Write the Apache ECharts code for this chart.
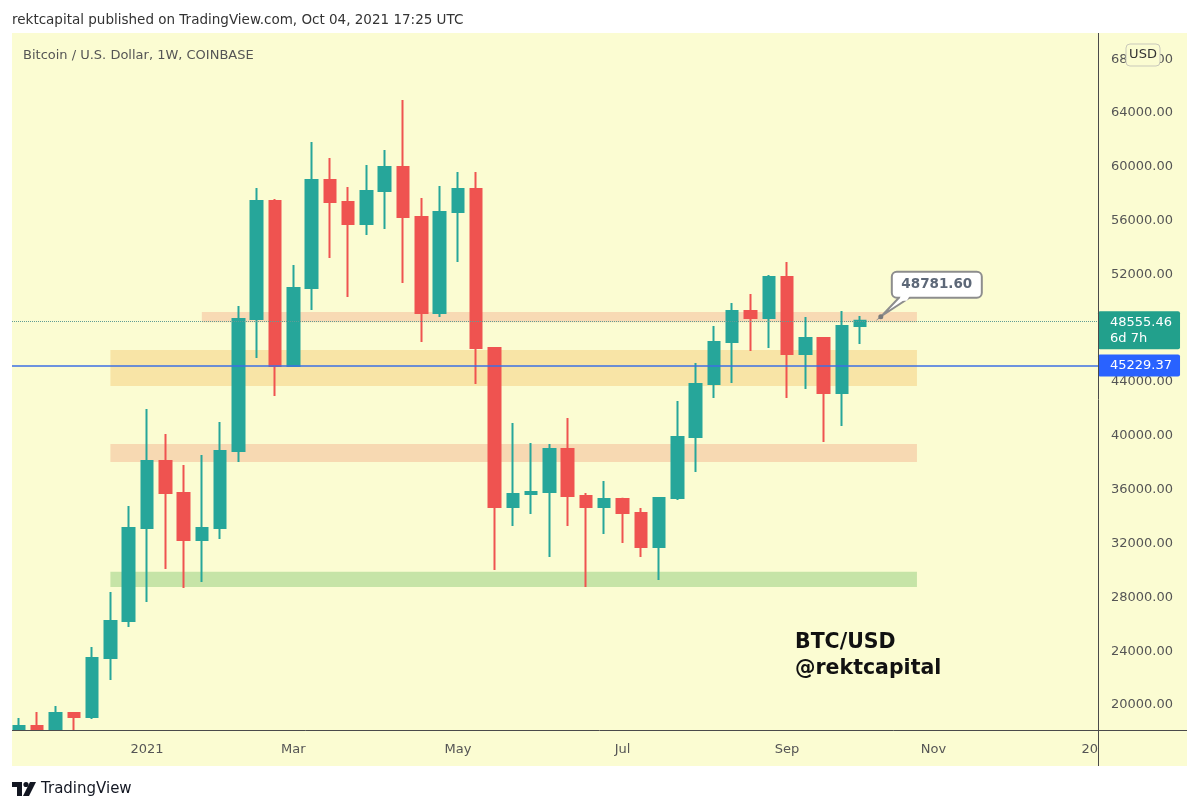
<!DOCTYPE html>
<html>
<head>
<meta charset="utf-8">
<script src="https://cdn.jsdelivr.net/npm/echarts@6/dist/echarts.min.js"></script>
<style>
html,body{margin:0;padding:0;background:#ffffff;}
#c{width:1200px;height:811px;}
</style>
</head>
<body>
<div id="c"></div>
<script>
// Weekly candles, week index 0 = week of 2020-11-16
const weekIndex = [0,1,2,3,4,5,6,7,8,9,10,11,12,13,14,15,16,17,18,19,20,21,22,23,24,25,26,27,28,29,30,31,32,33,34,35,36,37,38,39,40,41,42,43,44,45,46];
const opens  = [16000,18440,18180,19405,19108,23493,26243,33155,38134,35756,32263,33155,38877,48688,57457,45194,50991,59018,57383,55748,58200,59984,56268,49133,56640,58349,46532,34715,35682,35830,39026,35533,34715,35310,34270,31743,35384,39918,43857,46978,49282,48762,51809,46086,47275,43188,48167];
const closes = [18440,18180,19405,19108,23493,26243,33155,38134,35756,32263,33155,38877,48688,57457,45194,50991,59018,57383,55748,58200,59984,56268,49133,56640,58349,46532,34715,35682,35830,39026,35533,34715,35310,34270,31743,35384,39918,43857,46978,49282,48762,51809,46086,47275,43188,48167,48555.46];
const lows   = [15800,16200,17600,17600,18960,21858,25797,27655,30108,28696,29141,32337,38060,45789,42965,45120,49357,53221,50323,54930,55376,51363,46978,48836,52924,43857,30033,33303,34195,31000,33303,28770,32709,32040,31000,29290,35236,37316,42816,43931,46309,46532,42816,43485,39546,40735,46830];
const highs  = [19030,19480,19926,19420,24310,28398,34790,41999,40141,37837,38580,41033,49654,58423,57600,52700,61842,60653,58497,60133,61248,64964,57680,58571,59613,59613,46606,40958,39472,39398,41330,35756,36648,35400,34641,35400,42593,45417,48167,49877,50546,51958,52924,48836,47350,49282,48910];

// Axis ticks
const timeTickIdx = [7,15,24,33,42,50,59];
const timeTickLabels = ['2021','Mar','May','Jul','Sep','Nov','2022'];
const priceTicks = [20000,24000,28000,32000,36000,40000,44000,52000,56000,60000,64000,68000];

// Horizontal levels
const lastPrice = 48555.46;
const lastCountdown = '6d 7h';
const blueLevel = 45229.37;
const calloutIdx = 47.07;
const calloutPrice = 48781.60;

// Zones: [startWeek, endWeek, low, high]
const zoneStart = [10, 5, 5, 5];
const zoneEnd   = [49.1, 49.1, 49.1, 49.1];
const zoneLow   = [48450, 43700, 38060, 28770];
const zoneHigh  = [49200, 46380, 39400, 29900];
const zoneColors = ['#f8dab4', '#f8e4a6', '#f7d9b2', '#c6e4a7'];

const BG = '#fbfcd2';
const FONT = '"DejaVu Sans", Verdana, sans-serif';

const candleData = weekIndex.map((w, i) => [w, opens[i], closes[i], lows[i], highs[i]]);
const areaData = zoneStart.map((s, i) => [
  { xAxis: s, yAxis: zoneHigh[i], itemStyle: { color: zoneColors[i] } },
  { xAxis: zoneEnd[i], yAxis: zoneLow[i] }
]);

const chart = echarts.init(document.getElementById('c'), null, { renderer: 'canvas' });

const option = {
  animation: false,
  backgroundColor: '#ffffff',
  grid: { left: 12, right: 102, top: 33, bottom: 81, containLabel: false },
  xAxis: {
    type: 'value',
    z: 80,
    min: -0.38,
    max: 59,
    axisLine: { show: false },
    axisTick: { show: false },
    splitLine: { show: false },
    axisLabel: {
      customValues: timeTickIdx,
      formatter: function (v) {
        const k = timeTickIdx.indexOf(Math.round(v));
        return k >= 0 ? timeTickLabels[k] : '';
      },
      color: '#555555',
      fontSize: 13,
      fontFamily: FONT,
      margin: 13,
      showMinLabel: true,
      showMaxLabel: true
    }
  },
  yAxis: {
    type: 'value',
    position: 'right',
    min: 18140,
    max: 69945,
    scale: true,
    axisLine: { show: false },
    axisTick: { show: false },
    splitLine: { show: false },
    axisLabel: {
      customValues: priceTicks,
      formatter: function (v) { return v.toFixed(2); },
      color: '#555555',
      fontSize: 13,
      fontFamily: FONT,
      margin: 13,
      align: 'left'
    }
  },
  series: [{
    type: 'candlestick',
    data: candleData,
    encode: { x: 0, y: [1, 2, 3, 4] },
    barWidth: 12,
    clip: true,
    itemStyle: {
      color: '#26a69a', color0: '#ef5350',
      borderColor: '#26a69a', borderColor0: '#ef5350',
      borderWidth: 2
    },
    markArea: { silent: true, data: areaData },
    markLine: {
      silent: true,
      symbol: 'none',
      data: [
        {
          yAxis: lastPrice,
          lineStyle: { type: 'dotted', color: '#5f9c95', width: 1 },
          label: {
            show: true, position: 'end', distance: 0,
            formatter: lastPrice.toFixed(2) + '\n' + lastCountdown,
            backgroundColor: '#22a08c', color: '#ffffff',
            fontFamily: FONT, fontSize: 13, lineHeight: 16,
            padding: [3, 8, 3, 12], borderRadius: 2,
            offset: [0, 9.5]
          }
        },
        {
          yAxis: blueLevel,
          lineStyle: { type: 'solid', color: '#3d6fe3', width: 1.5 },
          label: {
            show: true, position: 'end', distance: 0,
            formatter: blueLevel.toFixed(2),
            backgroundColor: '#2962ff', color: '#ffffff',
            fontFamily: FONT, fontSize: 13, lineHeight: 16,
            padding: [3, 8, 3, 12], borderRadius: 2
          }
        }
      ]
    }
  }]
};

chart.setOption(option);

const tip = chart.convertToPixel({ gridIndex: 0 }, [calloutIdx, calloutPrice]);
const ax = tip[0], ay = tip[1];

chart.setOption({
  graphic: [
    { type: 'rect', z: -100, silent: true, shape: { x: 12, y: 33, width: 1175, height: 733 }, style: { fill: BG } },
    { type: 'text', silent: true, style: { x: 12, y: 20, text: 'rektcapital published on TradingView.com, Oct 04, 2021 17:25 UTC', font: '13.5px ' + FONT, fill: '#333333', textVerticalAlign: 'middle' } },
    { type: 'text', silent: true, style: { x: 23, y: 56, text: 'Bitcoin / U.S. Dollar, 1W, COINBASE', font: '13px ' + FONT, fill: '#555555', textVerticalAlign: 'middle' } },
    // time-scale strip (hides candle parts below the pane)
    { type: 'rect', z: 50, silent: true, shape: { x: 12, y: 731, width: 1175, height: 35 }, style: { fill: BG } },
    { type: 'rect', z: 50, silent: true, shape: { x: 0, y: 731, width: 12, height: 40 }, style: { fill: '#ffffff' } },
    { type: 'rect', z: 81, silent: true, shape: { x: 1099, y: 731, width: 88, height: 35 }, style: { fill: BG } },
    // pane separators
    { type: 'line', z: 82, silent: true, shape: { x1: 1098.5, y1: 33, x2: 1098.5, y2: 766 }, style: { stroke: '#4a4a4a', lineWidth: 1 } },
    { type: 'line', z: 82, silent: true, shape: { x1: 12, y1: 730.5, x2: 1187, y2: 730.5 }, style: { stroke: '#4a4a4a', lineWidth: 1 } },
    // USD button
    { type: 'rect', z: 60, silent: true, shape: { x: 1126, y: 44, width: 34, height: 22, r: 4 }, style: { fill: BG, stroke: '#c9c9bb', lineWidth: 1 } },
    { type: 'text', z: 61, silent: true, style: { x: 1143, y: 55, text: 'USD', font: '13px ' + FONT, fill: '#333333', textAlign: 'center', textVerticalAlign: 'middle' } },
    // callout
    { type: 'polygon', z: 70, silent: true, shape: { points: [[ax + 20, ay - 21], [ax + 31, ay - 21], [ax + 2, ay - 2]] }, style: { fill: '#ffffff', stroke: '#8d8d8d', lineWidth: 2 } },
    { type: 'rect', z: 71, silent: true, shape: { x: ax + 12, y: ay - 46, width: 90, height: 26, r: 5 }, style: { fill: '#ffffff', stroke: '#8d8d8d', lineWidth: 2 } },
    { type: 'polygon', z: 72, silent: true, shape: { points: [[ax + 21, ay - 22], [ax + 30, ay - 22], [ax + 27, ay - 17], [ax + 19, ay - 17]] }, style: { fill: '#ffffff' } },
    { type: 'circle', z: 73, silent: true, shape: { cx: ax + 1, cy: ay - 1, r: 2.5 }, style: { fill: '#7a7a7a' } },
    { type: 'text', z: 74, silent: true, style: { x: ax + 57, y: ay - 33, text: calloutPrice.toFixed(2), font: '600 13.5px ' + FONT, fill: '#5d6878', textAlign: 'center', textVerticalAlign: 'middle' } },
    // watermark text
    { type: 'text', z: 40, silent: true, style: { x: 795, y: 643, text: 'BTC/USD', font: 'bold 20.5px ' + FONT, fill: '#111111', textVerticalAlign: 'middle' } },
    { type: 'text', z: 40, silent: true, style: { x: 795, y: 669, text: '@rektcapital', font: 'bold 20.5px ' + FONT, fill: '#111111', textVerticalAlign: 'middle' } },
    // TradingView footer logo
    { type: 'rect', z: 40, silent: true, shape: { x: 12, y: 782, width: 10, height: 5 }, style: { fill: '#131722' } },
    { type: 'rect', z: 40, silent: true, shape: { x: 17, y: 782, width: 5, height: 14 }, style: { fill: '#131722' } },
    { type: 'circle', z: 40, silent: true, shape: { cx: 26, cy: 784.5, r: 2.6 }, style: { fill: '#131722' } },
    { type: 'polygon', z: 40, silent: true, shape: { points: [[30, 782], [36, 782], [29, 796], [23, 796]] }, style: { fill: '#131722' } },
    { type: 'text', z: 40, silent: true, style: { x: 41, y: 789, text: 'TradingView', font: '15px ' + FONT, fill: '#131722', textVerticalAlign: 'middle' } }
  ]
});
</script>
</body>
</html>
